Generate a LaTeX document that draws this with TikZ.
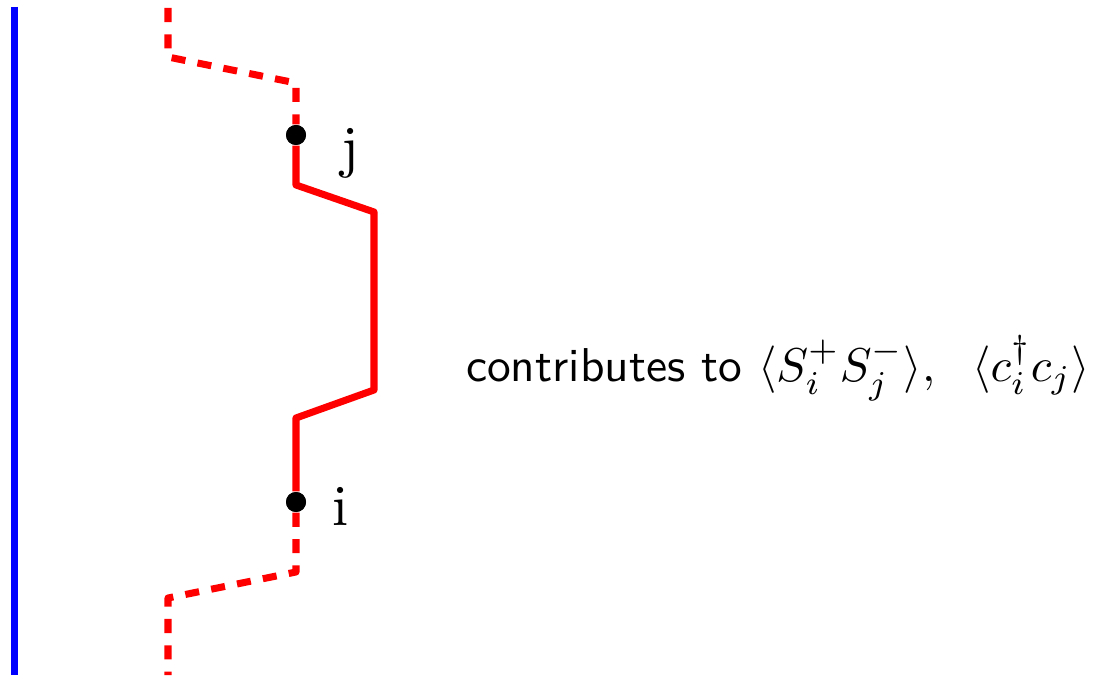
\documentclass[tikz,border=0pt]{standalone}
\usepackage{amsmath,amssymb}
\usepackage{xcolor}
\usepackage{graphicx}
\usepackage{tikz}
\usetikzlibrary{positioning,calc}

\begin{document}
\begin{tikzpicture}[
  every node/.style={font=\normalsize},
  world/.style={line width=1.9pt, blue},
  hop/.style={line width=2pt, red, line join=round},
  ghost/.style={hop, dash pattern=on 4pt off 3.5pt},
  site/.style={circle, fill=black, inner sep=0pt, minimum size=0.2cm},
  tag/.style={anchor=base, inner sep=0pt}
]
\useasboundingbox (0,0) rectangle (10.97,6.75);

%% --- Sites ----------------------------------------------------
\node[site] (sj) at (2.96,5.40) {};
\node[site] (si) at (2.96,1.73) {};
\node[tag] (lj) at ($(sj)+(0.54,-0.32)$) {\scalebox{1.65}{j}};
\node[tag] (li) at ($(si)+(0.45,-0.23)$) {\scalebox{1.65}{i}};

%% --- Corners of the path --------------------------------------
\coordinate (top)  at (1.68,6.67);
\coordinate (t1)   at (1.68,6.18);
\coordinate (t2)   at (2.96,5.92);
\coordinate (s1)   at (2.96,4.90);
\coordinate (s2)   at (3.74,4.63);
\coordinate (s3)   at (3.74,2.85);
\coordinate (s4)   at (2.96,2.57);
\coordinate (b1)   at (2.96,1.03);
\coordinate (b2)   at (1.68,0.77);
\coordinate (bot)  at (1.68,0.00);

%% --- Blue line ------------------------------------------------
\coordinate (wtop) at (0.145,6.68);
\coordinate (wbot) at (0.145,0.00);
\draw[world] (wtop) -- (wbot);

%% --- Red path -------------------------------------------------
\draw[ghost] (top) -- (t1) -- (t2) -- (sj);
\draw[hop] (sj) -- (s1) -- (s2) -- (s3) -- (s4) -- (si);
\draw[ghost] (si) -- (b1) -- (b2) -- (bot);
\node[site] at (sj) {};
\node[site] at (si) {};

%% --- Annotation -----------------------------------------------
\node[font=\normalsize\sffamily] (note) at (7.78,3.07)
     {\scalebox{1.35}{contributes to $\langle S_i^+S_j^-\rangle,\;\ \langle c_i^\dagger c_j\rangle$}};

\end{tikzpicture}
\end{document}
